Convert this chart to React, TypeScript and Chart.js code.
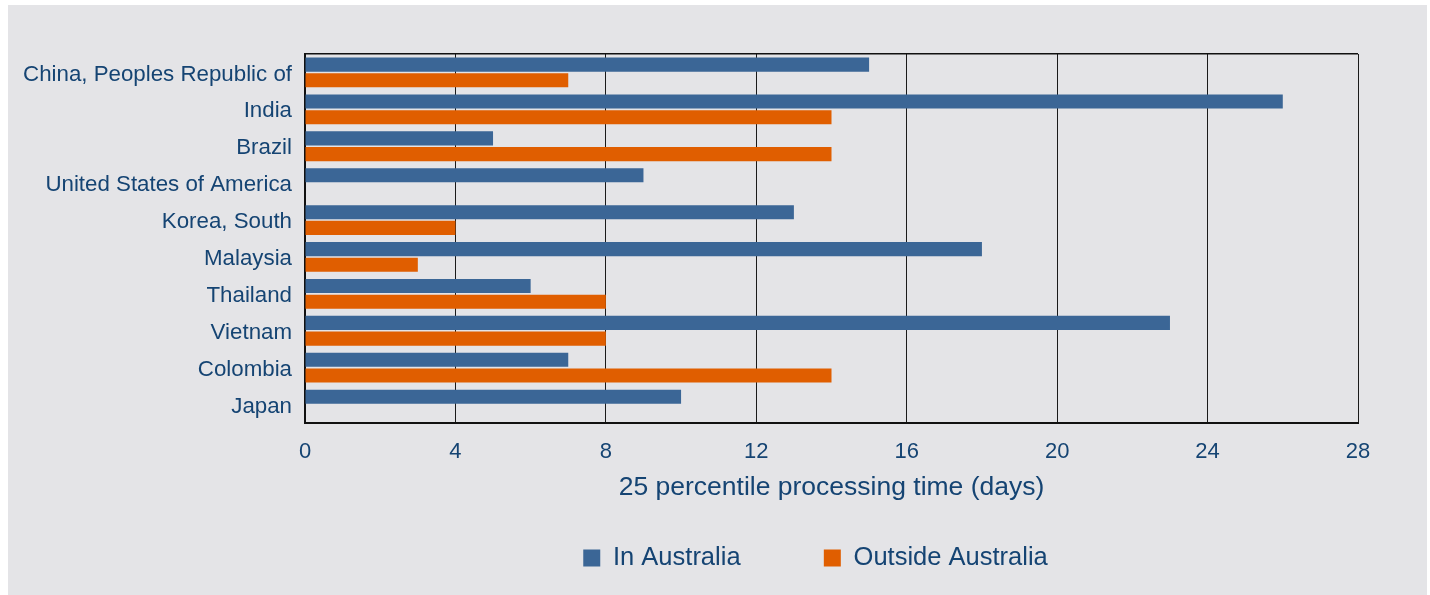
import React, { useEffect, useRef } from 'react';
import { Chart, registerables } from 'chart.js';

Chart.register(...registerables);

const categories = [
  'China, Peoples Republic of',
  'India',
  'Brazil',
  'United States of America',
  'Korea, South',
  'Malaysia',
  'Thailand',
  'Vietnam',
  'Colombia',
  'Japan',
];
const inAustralia = [15, 26, 5, 9, 13, 18, 6, 23, 7, 10];
const outsideAustralia = [7, 14, 14, null, 4, 3, 8, 8, 14, null];
const seriesNames = ['In Australia', 'Outside Australia'];
const xMin = 0;
const xMax = 28;
const xStep = 4;
const axisTitle = '25 percentile processing time (days)';

const BLUE = '#3b6696';
const ORANGE = '#e05e00';
const BG = '#e4e4e7';
const TEXT = '#154473';
const FONT = "'Liberation Sans', Arial, sans-serif";

const legendShift = {
  id: 'legendShift',
  afterLayout(chart: any) {
    if (chart.legend) {
      chart.legend.left -= 16;
      chart.legend.right -= 16;
    }
  },
};

export default function App() {
  const ref = useRef<HTMLCanvasElement>(null);

  useEffect(() => {
    if (!ref.current) return;
    const chart = new Chart(ref.current, {
      type: 'bar',
      data: {
        labels: categories,
        datasets: [
          {
            label: seriesNames[0],
            data: inAustralia,
            backgroundColor: BLUE,
            borderWidth: 0,
            categoryPercentage: 0.85,
            barPercentage: 0.9,
          },
          {
            label: seriesNames[1],
            data: outsideAustralia,
            backgroundColor: ORANGE,
            borderWidth: 0,
            categoryPercentage: 0.85,
            barPercentage: 0.9,
          },
        ],
      },
      options: {
        indexAxis: 'y',
        responsive: false,
        animation: false,
        layout: { padding: { left: 0, right: 69, top: 49, bottom: 14.25 } },
        plugins: {
          tooltip: { enabled: false },
          legend: {
            position: 'bottom',
            align: 'center',
            fullSize: false,
            labels: {
              boxWidth: 17,
              boxHeight: 17,
              padding: 83.25,
              color: TEXT,
              font: { family: FONT, size: 25.5 },
            },
          },
        },
        scales: {
          x: {
            type: 'linear',
            min: xMin,
            max: xMax,
            ticks: {
              stepSize: xStep,
              color: TEXT,
              padding: 16,
              font: { family: FONT, size: 22 },
            },
            grid: { color: '#1a1a1a', lineWidth: 1, drawTicks: false },
            border: { color: '#111', width: 2 },
            title: {
              display: true,
              text: axisTitle,
              color: TEXT,
              font: { family: FONT, size: 26.5 },
              padding: { top: 0, bottom: -41.9 },
            },
            afterFit: (scale: any) => {
              scale.height = 39;
            },
          },
          y: {
            type: 'category',
            ticks: {
              color: TEXT,
              padding: 13,
              labelOffset: 2,
              font: { family: FONT, size: 22.3 },
            },
            grid: {
              drawTicks: false,
              color: (ctx: any) => (ctx.index === 0 ? '#111' : 'rgba(0,0,0,0)'),
              lineWidth: 1.5,
            },
            border: { color: '#111', width: 2 },
            afterFit: (scale: any) => {
              scale.width = 297;
            },
          },
        },
      },
      plugins: [legendShift],
    });
    return () => chart.destroy();
  }, []);

  return (
    <canvas
      ref={ref}
      width={1419}
      height={590}
      style={{ position: 'absolute', left: 8, top: 5, width: 1419, height: 590, background: BG }}
    />
  );
}
